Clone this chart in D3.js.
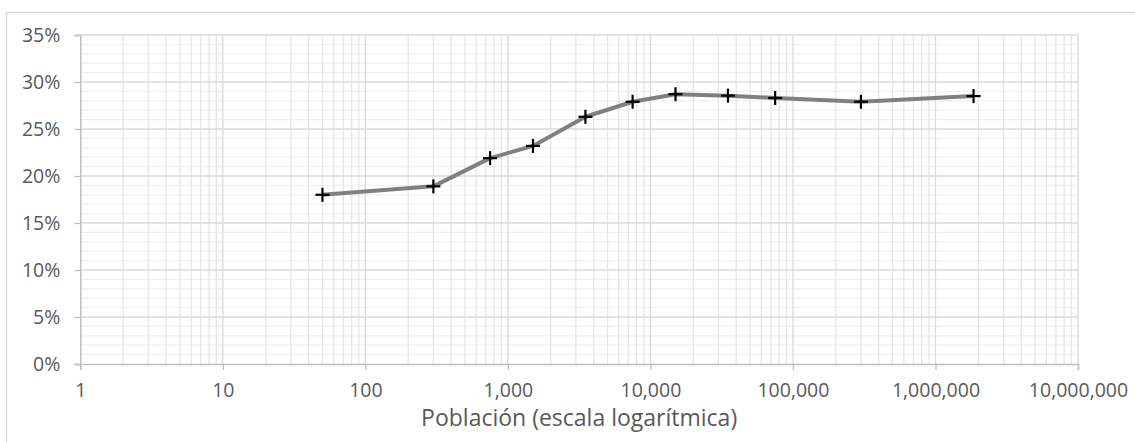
<!DOCTYPE html>
<html><head><meta charset="utf-8">
<script src="https://cdn.jsdelivr.net/npm/d3@7"></script>
<style>
html,body{margin:0;padding:0;background:#fff;}
svg{display:block;font-family:"Open Sans",sans-serif;}
</style></head>
<body>
<svg id="chart" width="1135" height="442"></svg>
<script>
const poblacion = [50, 300, 750, 1500, 3500, 7500, 15000, 35000, 75000, 300000, 1850000];
const porcentaje = [0.18, 0.189, 0.219, 0.232, 0.263, 0.279, 0.287, 0.2855, 0.283, 0.279, 0.285];
const xTicks = [1, 10, 100, 1000, 10000, 100000, 1000000, 10000000];
const yTicks = [0, 0.05, 0.10, 0.15, 0.20, 0.25, 0.30, 0.35];
const xTitle = "Población (escala logarítmica)";

const svg = d3.select("#chart");
const L = 80.3, R = 1078, T = 35, B = 364;

// outer chart border
svg.append("rect").attr("x", 6.5).attr("y", 12.5).attr("width", 1140).attr("height", 440)
  .attr("fill", "none").attr("stroke", "#d9d9d9").attr("stroke-width", 1.3);

const x = d3.scaleLog().domain([1, 1e7]).range([L, R]);
const y = d3.scaleLinear().domain([0, 0.35]).range([B, T]);

// minor horizontal gridlines (1%)
const yMinor = d3.range(1, 35).filter(i => i % 5 !== 0).map(i => i / 100);
svg.append("g").selectAll("line").data(yMinor).join("line")
  .attr("x1", L).attr("x2", R).attr("y1", d => y(d)).attr("y2", d => y(d))
  .attr("stroke", "#f0f0f0").attr("stroke-width", 1.3);

// minor vertical gridlines
const xMinor = [];
for (let e = 0; e < 7; e++) for (let m = 2; m <= 9; m++) xMinor.push(m * Math.pow(10, e));
svg.append("g").selectAll("line").data(xMinor).join("line")
  .attr("x1", d => x(d)).attr("x2", d => x(d)).attr("y1", T).attr("y2", B)
  .attr("stroke", "#e6e6e6").attr("stroke-width", 1.3);

// major horizontal gridlines
svg.append("g").selectAll("line").data(yTicks.slice(1)).join("line")
  .attr("x1", L).attr("x2", R).attr("y1", d => y(d)).attr("y2", d => y(d))
  .attr("stroke", "#dadada").attr("stroke-width", 1.3);

// major vertical gridlines
svg.append("g").selectAll("line").data(xTicks.slice(1)).join("line")
  .attr("x1", d => x(d)).attr("x2", d => x(d)).attr("y1", T).attr("y2", B)
  .attr("stroke", "#dadada").attr("stroke-width", 1.3);

// axes
const xAxis = d3.axisBottom(x).tickValues(xTicks).tickSize(6).tickPadding(13)
  .tickFormat(d3.format(",d"));
const gx = svg.append("g").attr("transform", `translate(0,${B})`).call(xAxis);
gx.select(".domain").attr("stroke", "#bfbfbf").attr("stroke-width", 1.5);
gx.selectAll(".tick line").attr("stroke", "#bfbfbf").attr("stroke-width", 1.3);
gx.selectAll(".tick text").attr("fill", "#595959").style("font-size", "19.5px")
  .style("font-family", "'Open Sans',sans-serif");

const yAxis = d3.axisLeft(y).tickValues(yTicks).tickSize(6).tickPadding(14)
  .tickFormat(d3.format(".0%"));
const gy = svg.append("g").attr("transform", `translate(${L},0)`).call(yAxis);
gy.select(".domain").attr("stroke", "#bfbfbf").attr("stroke-width", 1.5);
gy.selectAll(".tick line").attr("stroke", "#bfbfbf").attr("stroke-width", 1.3);
gy.selectAll(".tick text").attr("fill", "#595959").style("font-size", "19.5px")
  .style("font-family", "'Open Sans',sans-serif");

// x axis title
svg.append("text").attr("x", (L + R) / 2).attr("y", 426).attr("text-anchor", "middle")
  .attr("fill", "#595959").style("font-size", "23px").text(xTitle);

// series line
const data = poblacion.map((p, i) => ({p, v: porcentaje[i]}));
const line = d3.line().x(d => x(d.p)).y(d => y(d.v));
svg.append("path").datum(data).attr("d", line).attr("fill", "none")
  .attr("stroke", "#808080").attr("stroke-width", 4).attr("stroke-linejoin", "round");

// plus markers
const mk = svg.append("g").selectAll("g").data(data).join("g")
  .attr("transform", d => `translate(${x(d.p)},${y(d.v)})`);
mk.append("line").attr("x1", -7).attr("x2", 7).attr("y1", 0).attr("y2", 0)
  .attr("stroke", "#000").attr("stroke-width", 2.2);
mk.append("line").attr("x1", 0).attr("x2", 0).attr("y1", -7).attr("y2", 7)
  .attr("stroke", "#000").attr("stroke-width", 2.2);
</script>
</body></html>
